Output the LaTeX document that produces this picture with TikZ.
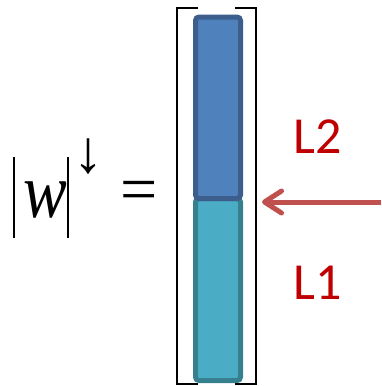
\documentclass[tikz,border=0pt]{standalone}
\usepackage{fontspec}
\setmainfont{Liberation Serif}
\newfontfamily\lblfont{Carlito}
\usetikzlibrary{arrows.meta}
\definecolor{topfill}{HTML}{4F81BD}
\definecolor{topedge}{HTML}{3B5E8C}
\definecolor{botfill}{HTML}{4BACC6}
\definecolor{botedge}{HTML}{357F8F}
\definecolor{arrowred}{HTML}{C0504D}
\definecolor{labelred}{HTML}{C00000}
\tikzset{
  barpart/.style={line width=5pt, rounded corners=3.5pt, minimum width=45pt, inner sep=0pt, anchor=north},
  bracketline/.style={line width=2.3pt, black},
  redlabel/.style={text=labelred, font=\lblfont\fontsize{52}{52}\selectfont, inner sep=0pt},
  absbar/.style={line width=2pt, black},
}
\begin{document}
\begin{tikzpicture}[x=1pt,y=-1pt]
\useasboundingbox (0,0) rectangle (381,386);
% bar
\node[barpart, draw=botedge, fill=botfill, minimum height=182pt] (lower) at (218,196) {};
\node[barpart, draw=topedge, fill=topfill, minimum height=181.5pt] (upper) at (218,14.5) {};
% brackets
\draw[bracketline] (198,8) -- (177,8) -- (177,384) -- (198,384);
\draw[bracketline] (235,8) -- (256,8) -- (256,384) -- (235,384);
% arrow
\coordinate (tail) at (381,202);
\coordinate (tip) at (262,202);
\draw[arrowred, line width=5pt, -{Straight Barb[round, length=17pt, width=22pt]}] (tail) -- (tip);
% labels
\node[redlabel] (l2) at (318,137) {L2};
\node[redlabel] (l1) at (318,283) {L1};
% formula
\coordinate (b1t) at (14,157); \coordinate (b1b) at (14,238);
\coordinate (b2t) at (67.5,157); \coordinate (b2b) at (67.5,238);
\draw[absbar] (b1t) -- (b1b);
\draw[absbar] (b2t) -- (b2b);
\node[inner sep=0pt] (w) at (45,199.5) {\scalebox{0.84}[1]{\fontsize{78}{78}\selectfont\itshape w}};
\node[inner sep=0pt] (down) at (88,156.5) {\fontsize{60}{60}\selectfont ↓};
\node[inner sep=0pt] (eq) at (139.5,196) {\fontsize{66}{66}\selectfont =};
\end{tikzpicture}
\end{document}
